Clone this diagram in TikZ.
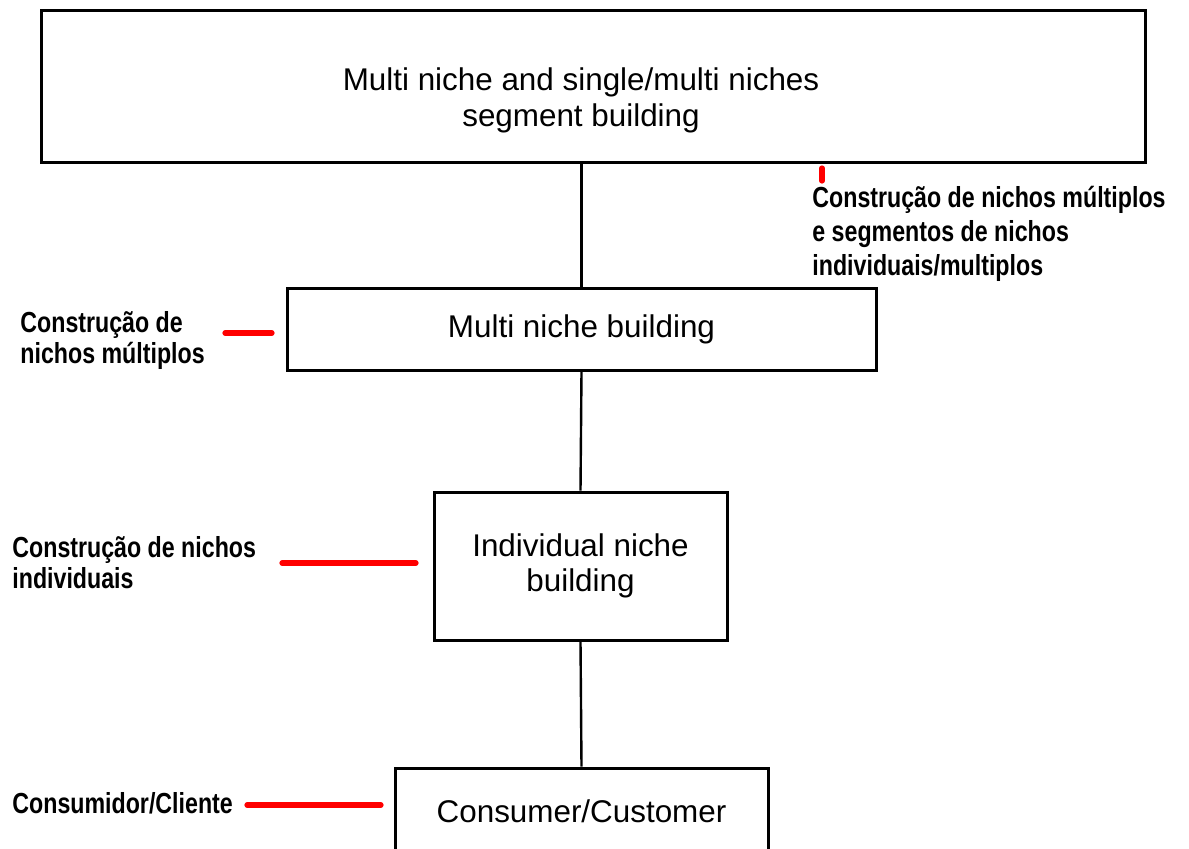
\documentclass[tikz,border=0pt]{standalone}
\usepackage{fontspec}
\setmainfont{Liberation Sans}
\newfontfamily\notefont[FakeStretch=0.8]{Liberation Sans}

\begin{document}
\begin{tikzpicture}[x=0.5pt,y=-0.5pt]
        \tikzset{box style/.style = {draw, line width=1.5pt, align=center, inner sep=0pt,
                    font=\fontsize{15.7}{17.5}\selectfont},
                 note style/.style = {align=left, inner sep=0pt,
                    font=\notefont\bfseries\fontsize{14.5}{15.5}\selectfont},
                 link style/.style = {line width=1.2pt},
                 mark style/.style = {draw=red, line width=2.6pt, line cap=round}}
        \useasboundingbox (0,0) rectangle (1189,848);
        % boxes
        \node[box style, minimum width=552pt, minimum height=76pt,
              font=\fontsize{15.7}{18}\selectfont] (segment) at (593,86)
            {\rule{0pt}{26pt}Multi niche and single/multi niches\hspace*{12pt}\\segment building\hspace*{12pt}};
        \node[box style, minimum width=294.5pt, minimum height=41pt] (multi) at (581.5,329)
            {Multi niche building};
        \node[box style, minimum width=146.5pt, minimum height=74pt] (single) at (580.5,566)
            {Individual niche\\building};
        \node[box style, minimum width=186.5pt, minimum height=43pt] (customer) at (581.5,811)
            {Consumer/Customer};
        \draw[link style] (multi.north |- segment.south) -- (multi.north);
        \draw[link style] (multi.south) -- (single.north);
        \draw[link style] (single.south) -- (customer.north);
        % notes
        \node[note style, anchor=north west, font=\notefont\bfseries\fontsize{14.5}{17}\selectfont]
            (note segment) at (812,186)
            {Construção de nichos múltiplos\\e segmentos de nichos\\individuais/multiplos};
        \node[note style, anchor=west] (note multi) at (20,340)
            {Construção de\\nichos múltiplos};
        \node[note style, anchor=west] (note single) at (12,563)
            {Construção de nichos\\individuais};
        \node[note style, anchor=west] (note customer) at (12,803)
            {Consumidor/Cliente};
        \coordinate (m1) at (822,168);
        \coordinate (m2) at (822,181);
        \coordinate (m3) at (225,333);
        \coordinate (m4) at (272,333);
        \coordinate (m5) at (282,563);
        \coordinate (m6) at (416,563);
        \coordinate (m7) at (247,805);
        \coordinate (m8) at (381,805);
        \draw[mark style] (m1) -- (m2);
        \draw[mark style] (m3) -- (m4);
        \draw[mark style] (m5) -- (m6);
        \draw[mark style] (m7) -- (m8);
\end{tikzpicture}
\end{document}
